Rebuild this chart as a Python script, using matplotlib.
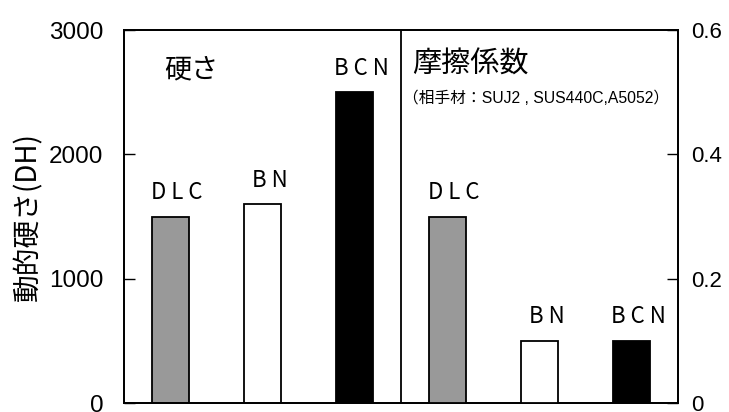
import matplotlib
matplotlib.use('Agg')
import matplotlib.pyplot as plt

# 硬さ (left axis) and 摩擦係数 (right axis)
materials = ['D L C', 'B N', 'B C N']
hardness = [1500, 1600, 2500]
friction = [0.3, 0.1, 0.1]
bar_colors = ['#999999', '#ffffff', '#000000']

left_ticks = [0, 1000, 2000, 3000]
right_ticks = [0, 0.2, 0.4, 0.6]
right_tick_labels = ['0', '0.2', '0.4', '0.6']

jp = ['Noto Sans CJK JP', 'DejaVu Sans']
mixed = ['Liberation Sans', 'Noto Sans CJK JP']
num_font = 'Liberation Sans'

fig = plt.figure(figsize=(7.29, 4.12), dpi=100)
ax = fig.add_axes([0.1701, 0.0218, 0.760, 0.9053])
ax2 = ax.twinx()

x_left = [0, 1, 2]
x_right = [3, 4, 5]

ax.bar(x_left, hardness, width=0.4, color=bar_colors, edgecolor='black', linewidth=1.3, zorder=3)
ax2.bar(x_right, friction, width=0.4, color=bar_colors, edgecolor='black', linewidth=1.3, zorder=3)

ax.set_xlim(-0.5, 5.5)
ax.set_ylim(0, 3000)
ax2.set_ylim(0, 0.6)

ax.set_xticks([])
ax.set_yticks(left_ticks)
ax.set_yticklabels([str(t) for t in left_ticks], fontfamily=num_font, fontsize=17.5)
ax.tick_params(axis='y', direction='in', length=8, width=1, pad=15)

ax2.set_yticks(right_ticks)
ax2.set_yticklabels(right_tick_labels, fontfamily=num_font, fontsize=16)
ax2.tick_params(axis='y', direction='in', length=8, width=1, pad=9.5)

for a in (ax, ax2):
    for s in a.spines.values():
        s.set_linewidth(1.3)

# divider between the two panels
ax.axvline(2.5, color='black', linewidth=1.3, zorder=4)

ax.set_ylabel('動的硬さ(DH)', family=jp, fontsize=20, labelpad=4)

# labels over each bar
for xi, v, name in zip(x_left, hardness, materials):
    ax.annotate(name, (xi, v), xytext=(5, 9), textcoords='offset points',
                ha='center', va='bottom', family=jp, fontsize=16)
for xi, v, name in zip(x_right, friction, materials):
    ax2.annotate(name, (xi, v), xytext=(5, 9), textcoords='offset points',
                 ha='center', va='bottom', family=jp, fontsize=16)

ax.text(-0.06, 2680, '硬さ', family=jp, fontsize=19.5, ha='left', va='center')
ax.text(2.62, 2720, '摩擦係数', family=jp, fontsize=21, ha='left', va='center')
ax.text(2.52, 2450, '（相手材：SUJ2 , SUS440C,A5052）', family=mixed, fontsize=11.3,
        ha='left', va='center')

fig.savefig('out.png', dpi=100)
